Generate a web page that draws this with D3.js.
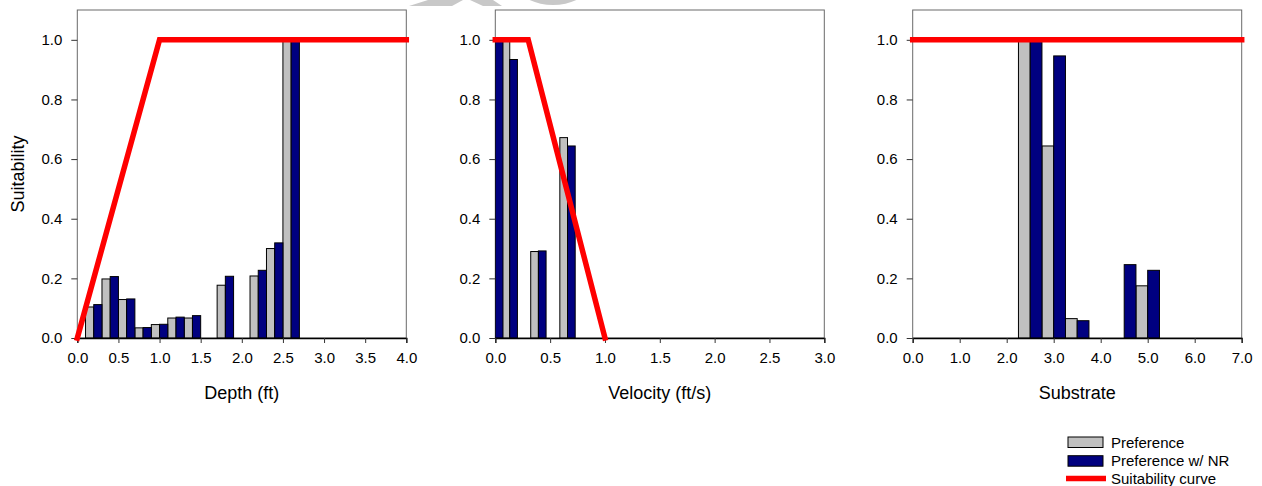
<!DOCTYPE html>
<html><head><meta charset="utf-8">
<script src="https://cdn.jsdelivr.net/npm/d3@7"></script>
<style>
html,body{margin:0;padding:0;background:#fff;}
svg{display:block;font-family:"Liberation Sans",Arial,sans-serif;}
</style></head>
<body><svg id="c" width="1262" height="486"></svg>
<script>
// ---- data ----
const yTicks = [0, 0.2, 0.4, 0.6, 0.8, 1.0];

const depthBins   = [0.2, 0.4, 0.6, 0.8, 1.0, 1.2, 1.4, 1.8, 2.2, 2.4, 2.6];
const depthPref   = [0.104, 0.198, 0.129, 0.034, 0.045, 0.067, 0.067, 0.177, 0.208, 0.300, 1.0];
const depthPrefNR = [0.112, 0.206, 0.131, 0.035, 0.046, 0.070, 0.075, 0.207, 0.227, 0.319, 1.0];
const depthCurveX = [0, 1, 4];
const depthCurveY = [0, 1, 1];
const depthTicks  = [0, 0.5, 1, 1.5, 2, 2.5, 3, 3.5, 4];

const velBins   = [0, 0.1317, 0.393, 0.6585];
const velPref   = [1.0, 1.0, 0.290, 0.672];
const velPrefNR = [1.0, 0.934, 0.292, 0.644];
const velCurveX = [0, 0.3, 1.0];
const velCurveY = [1, 1, 0];
const velTicks  = [0, 0.5, 1, 1.5, 2, 2.5, 3];

const subBins   = [2.5, 3.0, 3.5, 4.5, 5.0];
const subPref   = [1.0, 0.644, 0.065, 0, 0.175];
const subPrefNR = [1.0, 0.946, 0.058, 0.246, 0.227];
const subCurveX = [0, 7];
const subCurveY = [1, 1];
const subTicks  = [0, 1, 2, 3, 4, 5, 6, 7];

const legendLabels = ["Preference", "Preference w/ NR", "Suitability curve"];

// ---- layout / style ----
const GRAY = "#c0c0c0", NAVY = "#000080", RED = "#ff0000";
const plotTop = 10, plotBottom = 338, W = 329;
const panels = [
  {left: 77.3, max: 4, bins: depthBins, a: depthPref, b: depthPrefNR, cx: depthCurveX, cy: depthCurveY, ticks: depthTicks, bw: 0.1, title: "Depth (ft)", ylab: true},
  {left: 495.3, max: 3, bins: velBins, a: velPref, b: velPrefNR, cx: velCurveX, cy: velCurveY, ticks: velTicks, bw: 0.07, title: "Velocity (ft/s)"},
  {left: 912.7, max: 7, bins: subBins, a: subPref, b: subPrefNR, cx: subCurveX, cy: subCurveY, ticks: subTicks, bw: 0.25, title: "Substrate"}
];

const svg = d3.select("#c");

// faint watermark remnants at top
const wm = svg.append("g").attr("fill", "#c8c8c8");
wm.append("path").attr("d", "M409,6 L452,6 L463,0 L428,0 Z");
wm.append("path").attr("d", "M470,0 L493,0 L502,6 L483,6 Z");
wm.append("path").attr("transform", "translate(553,-52)")
  .attr("d", d3.arc()({innerRadius: 50, outerRadius: 57, startAngle: Math.PI * 0.72, endAngle: Math.PI * 1.28}));

const y = d3.scaleLinear().domain([0, 1.1]).range([plotBottom, plotTop]);

panels.forEach((p, i) => {
  const x = d3.scaleLinear().domain([0, p.max]).range([p.left, p.left + W]);
  const g = svg.append("g");
  const clipId = "clip" + i;
  svg.append("clipPath").attr("id", clipId).append("rect")
    .attr("x", p.left).attr("y", plotTop - 5).attr("width", W).attr("height", plotBottom - plotTop + 5);

  // frame
  g.append("rect").attr("x", p.left).attr("y", plotTop).attr("width", W).attr("height", plotBottom - plotTop)
    .attr("fill", "none").attr("stroke", "#6a6a6a").attr("stroke-width", 1);

  const bars = g.append("g").attr("clip-path", `url(#${clipId})`);
  const rows = p.bins.map((c, k) => ({c, a: p.a[k], b: p.b[k]}));
  bars.selectAll("rect.a").data(rows.filter(d => d.a > 0)).join("rect")
    .attr("x", d => x(d.c - p.bw)).attr("width", d => x(d.c) - x(d.c - p.bw))
    .attr("y", d => y(d.a)).attr("height", d => y(0) - y(d.a))
    .attr("fill", GRAY).attr("stroke", "#000").attr("stroke-width", 1);
  bars.selectAll("rect.b").data(rows.filter(d => d.b > 0)).join("rect")
    .attr("x", d => x(d.c)).attr("width", d => x(d.c + p.bw) - x(d.c))
    .attr("y", d => y(d.b)).attr("height", d => y(0) - y(d.b))
    .attr("fill", NAVY).attr("stroke", "#000").attr("stroke-width", 1);

  // axes
  const ax = g.append("g").attr("transform", `translate(0,${plotBottom})`)
    .call(d3.axisBottom(x).tickValues(p.ticks).tickFormat(d3.format(".1f")).tickSize(5).tickPadding(9));
  ax.select(".domain").attr("stroke", "#000").attr("stroke-width", 1.3);
  const ay = g.append("g").attr("transform", `translate(${p.left},0)`)
    .call(d3.axisLeft(y).tickValues(yTicks).tickFormat(d3.format(".1f")).tickSize(6).tickPadding(9));
  ay.select(".domain").remove();
  [ax, ay].forEach(a => {
    a.selectAll("text").attr("font-size", 15).attr("fill", "#000").attr("font-family", "Liberation Sans, Arial, sans-serif");
    a.selectAll(".tick line").attr("stroke", "#333");
  });

  // suitability curve
  const line = d3.line().x(d => x(d[0])).y(d => y(d[1]));
  g.append("path").datum(p.cx.map((v, k) => [v, p.cy[k]]))
    .attr("d", line).attr("fill", "none").attr("stroke", RED).attr("stroke-width", 5.5)
    .attr("stroke-linecap", "square").attr("stroke-linejoin", "miter");

  // x title
  g.append("text").attr("x", p.left + W / 2).attr("y", 399).attr("text-anchor", "middle")
    .attr("font-size", 18).attr("fill", "#000").text(p.title);
  if (p.ylab) {
    g.append("text").attr("transform", `translate(24,${(plotTop + plotBottom) / 2}) rotate(-90)`)
      .attr("text-anchor", "middle").attr("font-size", 18).attr("fill", "#000").text("Suitability");
  }
});

// legend
const lg = svg.append("g");
const fills = [GRAY, NAVY];
fills.forEach((f, k) => {
  lg.append("rect").attr("x", 1068).attr("y", 437 + k * 18.7).attr("width", 35).attr("height", 10.5)
    .attr("fill", f).attr("stroke", "#000").attr("stroke-width", 1);
});
lg.append("line").attr("x1", 1066).attr("x2", 1106).attr("y1", 478.5).attr("y2", 478.5)
  .attr("stroke", RED).attr("stroke-width", 5.5);
legendLabels.forEach((t, k) => {
  lg.append("text").attr("x", 1111).attr("y", 448 + k * 18.2).attr("font-size", 15).attr("fill", "#000").text(t);
});
</script></body></html>
